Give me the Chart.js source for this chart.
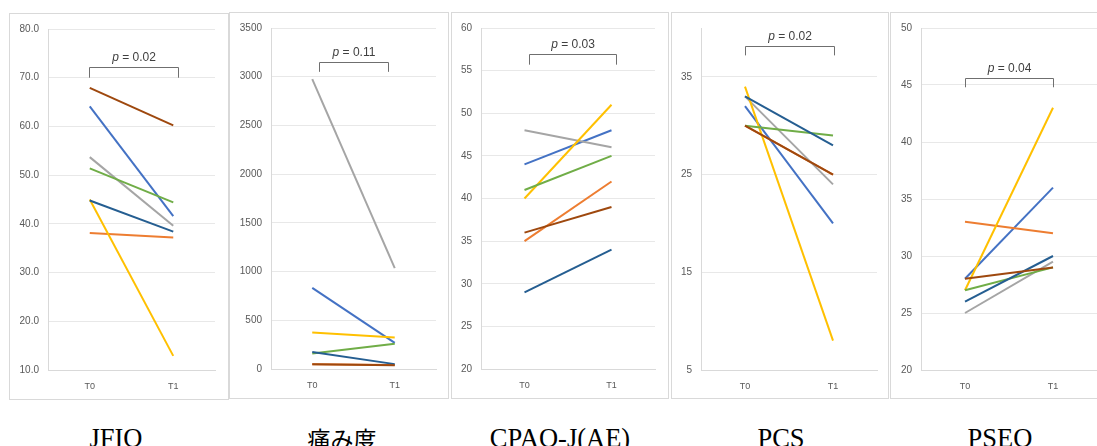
<!DOCTYPE html>
<html>
<head>
<meta charset="utf-8">
<script src="https://cdn.jsdelivr.net/npm/chart.js@4.4.1/dist/chart.umd.min.js"></script>
<style>
html, body { margin: 0; padding: 0; background: #fff; overflow: hidden; width: 1097px; height: 446px; }
.box { position: absolute; border: 1px solid #d9d9d9; box-sizing: border-box; }
canvas { position: absolute; }
.ttl { position: absolute; width: 240px; text-align: center; white-space: nowrap; color: #000;
       font-family: "Liberation Serif", "Noto Sans CJK JP", serif; font-size: 26.5px; line-height: 26px; }
</style>
</head>
<body>
<script>
// categories
var labels = ['T0', 'T1'];

// series order: blue, orange, gray, yellow, green, dark blue, brown
var jfiqT0 = [64.1, 38.1, 53.7, 45.0, 51.4, 44.8, 67.9];
var jfiqT1 = [41.6, 37.2, 39.6, 12.9, 44.4, 38.4, 60.2];

var painT0 = [832, 50, 2975, 375, 160, 175, 48];
var painT1 = [268, 40, 1035, 323, 260, 50, 38];

var cpaqT0 = [44, 35, 48, 40, 41, 29, 36];
var cpaqT1 = [48, 42, 46, 51, 45, 34, 39];

var pcsT0 = [32, 30, 33, 34, 30, 33, 30];
var pcsT1 = [20, 25, 24, 8, 29, 28, 25];

var pseqT0 = [28, 33, 25, 27, 27, 26, 28];
var pseqT1 = [36, 32, 29.5, 43, 29, 30, 29];

// panel titles, p values, bracket levels
var titles = ['JFIQ', '痛み度', 'CPAQ-J(AE)', 'PCS', 'PSEQ'];
var pValues = ['0.02', '0.11', '0.03', '0.02', '0.04'];
var bracketTop = [72.1, 3150, 56.9, 38.2, 45.6];
var bracketBottom = [70, 3050, 55.7, 37.2, 44.8];

// axis ranges
var yMin = [10, 0, 20, 5, 20];
var yMax = [80, 3500, 60, 40, 50];
var yStep = [10, 500, 5, 10, 5];

var colors = ['#4472C4', '#ED7D31', '#A5A5A5', '#FFC000', '#70AD47', '#255E91', '#9E480E'];

var t0s = [jfiqT0, painT0, cpaqT0, pcsT0, pseqT0];
var t1s = [jfiqT1, painT1, cpaqT1, pcsT1, pseqT1];

// layout (page pixels): frame box and plot area
var panels = [
  { box: [9, 13, 228, 399],   plot: [48, 27, 215, 370],   bx: [-0.01, 1.06], tx: 116, dec: 1 },
  { box: [229, 12, 448, 398], plot: [271, 25, 436, 369],  bx: [0.08, 0.92],  tx: 342, dec: 0 },
  { box: [451, 12, 668, 398], plot: [481, 25, 655, 369],  bx: [0.05, 1.05],  tx: 560, dec: 0 },
  { box: [671, 12, 888, 398], plot: [701, 25, 877, 370],  bx: [0.0, 1.01],   tx: 781, dec: 0 },
  { box: [890, 12, 1110, 398], plot: [921, 25, 1097, 370], bx: [0.0, 1.0],   tx: 1000, dec: 0 }
];

var bracketPlugin = {
  id: 'pbracket',
  afterDatasetsDraw: function(chart, args, opts) {
    var xs = chart.scales.x, ys = chart.scales.y, ctx = chart.ctx;
    var x0 = Math.round(xs.getPixelForValue(opts.from)) + 0.5;
    var x1 = Math.round(xs.getPixelForValue(opts.to)) + 0.5;
    var yt = Math.round(ys.getPixelForValue(opts.top)) + 0.5;
    var yb = ys.getPixelForValue(opts.bottom);
    ctx.save();
    ctx.strokeStyle = '#6f6f6f';
    ctx.lineWidth = 1;
    ctx.beginPath();
    ctx.moveTo(x0, yb);
    ctx.lineTo(x0, yt);
    ctx.lineTo(x1, yt);
    ctx.lineTo(x1, yb);
    ctx.stroke();

    var fIt = 'italic 12px "Liberation Sans", Arial, sans-serif';
    var fNo = '12px "Liberation Sans", Arial, sans-serif';
    var rest = ' = ' + opts.p;
    ctx.font = fIt;
    var w1 = ctx.measureText('p').width;
    ctx.font = fNo;
    var w2 = ctx.measureText(rest).width;
    var sx = (x0 + x1) / 2 - (w1 + w2) / 2;
    var by = yt - 7;
    ctx.fillStyle = '#404040';
    ctx.textBaseline = 'alphabetic';
    ctx.textAlign = 'left';
    ctx.font = fIt;
    ctx.fillText('p', sx, by);
    ctx.font = fNo;
    ctx.fillText(rest, sx + w1, by);
    ctx.restore();
  }
};

panels.forEach(function(pn, k) {
  var box = document.createElement('div');
  box.className = 'box';
  box.style.left = pn.box[0] + 'px';
  box.style.top = pn.box[1] + 'px';
  box.style.width = (pn.box[2] - pn.box[0] + 1) + 'px';
  box.style.height = (pn.box[3] - pn.box[1] + 1) + 'px';
  document.body.appendChild(box);

  var cl = pn.box[0] + 1, ct = pn.box[1] + 1;
  var cr = Math.min(pn.box[2], 1097), cb = pn.box[3];
  var cw = cr - cl, ch = cb - ct;

  var cv = document.createElement('canvas');
  cv.width = cw; cv.height = ch;
  cv.style.left = cl + 'px';
  cv.style.top = ct + 'px';
  cv.style.width = cw + 'px';
  cv.style.height = ch + 'px';
  document.body.appendChild(cv);

  var yW = pn.plot[0] - cl;
  var xH = cb - pn.plot[3];

  var datasets = [];
  for (var i = 0; i < colors.length; i++) {
    datasets.push({
      label: 'S' + (i + 1),
      data: [t0s[k][i], t1s[k][i]],
      borderColor: colors[i],
      backgroundColor: colors[i],
      borderWidth: 2,
      pointRadius: 0,
      order: -i
    });
  }

  new Chart(cv, {
    type: 'line',
    data: { labels: labels, datasets: datasets },
    options: {
      responsive: false,
      animation: false,
      layout: { padding: { left: 0, top: pn.plot[1] - ct, right: cr - pn.plot[2], bottom: 0 } },
      plugins: {
        legend: { display: false },
        tooltip: { enabled: false },
        pbracket: { from: pn.bx[0], to: pn.bx[1], top: bracketTop[k], bottom: bracketBottom[k], p: pValues[k] }
      },
      scales: {
        x: {
          offset: true,
          grid: { display: false, drawTicks: false },
          border: { display: true, color: '#d9d9d9' },
          ticks: { color: '#595959', padding: 11, font: { size: 9, family: '"Liberation Sans", Arial, sans-serif' } },
          afterFit: function(s) { s.height = xH; }
        },
        y: {
          min: yMin[k], max: yMax[k],
          grid: { color: '#e8e8e8', drawTicks: false },
          border: { display: true, color: '#d9d9d9' },
          ticks: {
            padding: 9,
            color: '#595959',
            font: { size: 10, family: '"Liberation Sans", Arial, sans-serif' },
            callback: function(v) { return Number(v).toFixed(pn.dec); }
          },
          afterBuildTicks: function(s) {
            var t = [];
            for (var v = yMin[k]; v <= yMax[k] + 1e-9; v += yStep[k]) t.push({ value: v });
            s.ticks = t;
          },
          afterFit: function(s) { s.width = yW; }
        }
      }
    },
    plugins: [bracketPlugin]
  });

  var t = document.createElement('div');
  t.className = 'ttl';
  t.textContent = titles[k];
  t.style.left = (pn.tx - 120) + 'px';
  t.style.top = '425px';
  if (k === 1) { t.style.fontSize = '23px'; t.style.top = '428px'; }
  document.body.appendChild(t);
});
</script>
</body>
</html>
